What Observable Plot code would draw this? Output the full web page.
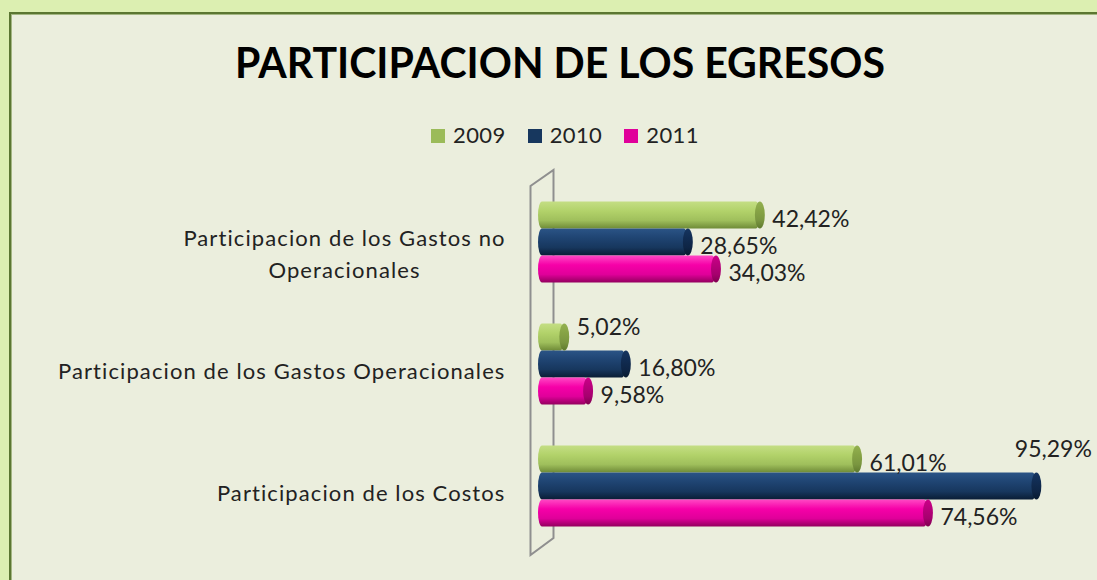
<!DOCTYPE html>
<html><head><meta charset="utf-8">
<script src="https://cdn.jsdelivr.net/npm/d3@7"></script>
<script src="https://cdn.jsdelivr.net/npm/@observablehq/plot@0.6"></script>
<style>
html,body{margin:0;padding:0;width:1097px;height:580px;overflow:hidden;background:#dcefb1;font-family:Lato,sans-serif;}
#frame{position:absolute;left:9px;top:12px;width:1200px;height:700px;border-left:2px solid #5b7631;border-top:2px solid #5b7631;background:#ebeedd;box-shadow:inset 1px 1px 0 #a3b682;}
#title{position:absolute;top:41px;left:560px;transform:translateX(-50%);font-size:42px;font-weight:700;line-height:1;white-space:nowrap;color:#000;}
#legend{position:absolute;top:124px;left:431px;display:flex;font-size:22px;line-height:1;color:#222;letter-spacing:0.4px;}
#legend .item{display:flex;align-items:center;margin-right:22px;}
#legend .sw{width:14px;height:14px;margin-right:8px;margin-top:2px;}
#chart{position:absolute;left:0;top:150px;}
</style></head>
<body>
<div id="frame"></div>
<div id="title">PARTICIPACION DE LOS EGRESOS</div>
<div id="legend"></div>
<div id="chart"></div>
<script>
const categories = ["Participacion de los Gastos no Operacionales", "Participacion de los Gastos Operacionales", "Participacion de los Costos"];
const years = ["2009", "2010", "2011"];
const v2009 = [42.42, 5.02, 61.01];
const v2010 = [28.65, 16.80, 95.29];
const v2011 = [34.03, 9.58, 74.56];
const legendColors = {"2009": "#9bbb59", "2010": "#17375e", "2011": "#e0009a"};

const series = [v2009, v2010, v2011];
const data = [];
categories.forEach((c, i) => years.forEach((y, j) => data.push({cat: c, year: y, value: series[j][i]})));

const fmt = d => d.value.toFixed(2).replace(".", ",") + "%";
const wrap = s => {
  if (s.length <= 42) return s;
  const words = s.split(" "); let a = "", k = 0;
  while (k < words.length && (a + " " + words[k]).trim().length <= 30) { a = (a + " " + words[k]).trim(); k++; }
  return a + "\n" + words.slice(k).join(" ");
};
const maxVal = d3.max(data, d => d.value);
const isTop = d => d.value === maxVal;
const isTiny = d => d.value < 6;

// legend
const lg = document.getElementById("legend");
years.forEach(y => {
  const it = document.createElement("div"); it.className = "item";
  it.innerHTML = `<div class="sw" style="background:${legendColors[y]}"></div><span>${y}</span>`;
  lg.appendChild(it);
});

const H = 430, MT = 49.5, MB = 53, ML = 538, MR = 36;
const plot = Plot.plot({
  width: 1097, height: H,
  marginLeft: ML, marginRight: MR, marginTop: MT, marginBottom: MB,
  style: {background: "transparent", fontFamily: "Lato, sans-serif", color: "#222", overflow: "visible"},
  x: {domain: [0, 100], axis: null},
  y: {domain: years, axis: null, padding: 0},
  fy: {domain: categories, axis: null, paddingInner: 0.333, paddingOuter: 0},
  color: {type: "identity"},
  marks: [
    Plot.barX(data, {x1: 0, x2: "value", y: "year", fy: "cat", fill: d => `url(#body${d.year})`, rx: 4, ry: 13.6, inset: 0}),
    Plot.barX(data, {x1: d => d.value - 0.95, x2: d => d.value + 0.95, y: "year", fy: "cat", fill: d => `url(#cap${d.year})`, rx: 5, ry: 13.6, inset: 0}),
    Plot.text(data.filter(d => !isTop(d) && !isTiny(d)), {x: "value", y: "year", fy: "cat", text: fmt, dx: 12, dy: 4, textAnchor: "start", fontSize: 23, fill: "#222"}),
    Plot.text(data.filter(isTiny), {x: "value", y: "year", fy: "cat", text: fmt, dx: 12, dy: -10, textAnchor: "start", fontSize: 23, fill: "#222"}),
    Plot.text(data.filter(isTop), {x: "value", y: "year", fy: "cat", text: fmt, dx: 55, dy: -37, textAnchor: "end", fontSize: 23, fill: "#222"}),
    Plot.text(categories.filter(c => !wrap(c).includes("\n")), {fy: d => d, text: d => d, frameAnchor: "left", dx: -33, dy: 8, textAnchor: "end", fontSize: 22, fill: "#222"}),
    Plot.text(categories.filter(c => wrap(c).includes("\n")), {fy: d => d, text: d => wrap(d), frameAnchor: "left", dx: -194, dy: 10, textAnchor: "middle", lineHeight: 1.45, fontSize: 22, fill: "#222"})
  ]
});

// widen category labels' letter spacing (Calibri-like proportions)
plot.querySelectorAll("text").forEach(t => {
  if (t.textContent.startsWith("Participacion")) t.setAttribute("letter-spacing", "1.1");
});

// gradients
const grads = {
  body2009: ["#c4de84", "#b2d26a", "#9fbf5c", "#6f8b37"],
  body2010: ["#2b5486", "#1f4472", "#17375e", "#0a1d35"],
  body2011: ["#ff48c4", "#f600a8", "#e0009a", "#93005e"],
  cap2009: ["#93b050", "#86a345", "#7a9640", "#5f7a2e"],
  cap2010: ["#153560", "#112c52", "#0e2545", "#081a30"],
  cap2011: ["#cc0088", "#b8007b", "#a6006e", "#80004f"]
};
const ns = "http://www.w3.org/2000/svg";
const defs = document.createElementNS(ns, "defs");
Object.entries(grads).forEach(([id, cs]) => {
  const g = document.createElementNS(ns, "linearGradient");
  g.setAttribute("id", id); g.setAttribute("x1", 0); g.setAttribute("y1", 0); g.setAttribute("x2", 0); g.setAttribute("y2", 1);
  [0, 0.35, 0.7, 1].forEach((o, i) => {
    const s = document.createElementNS(ns, "stop");
    s.setAttribute("offset", o); s.setAttribute("stop-color", cs[i]); g.appendChild(s);
  });
  defs.appendChild(g);
});
plot.insertBefore(defs, plot.firstChild);

// 3D back wall (drawn beneath the bars)
const bottom = H - MB;
const wall = document.createElementNS(ns, "path");
wall.setAttribute("d", `M${ML - 7.5},${bottom + 28} L${ML - 7.5},${MT - 13.5} L${ML + 15.5},${MT - 29.5} L${ML + 15.5},${bottom + 11} Z`);
wall.setAttribute("fill", "none"); wall.setAttribute("stroke", "#8f8f8f"); wall.setAttribute("stroke-width", 2);
const firstG = plot.querySelector("g");
plot.insertBefore(wall, firstG);

document.getElementById("chart").appendChild(plot);

// fit title width
function fitTitle() {
  const t = document.getElementById("title");
  t.style.transform = "translateX(-50%)";
  const w = t.getBoundingClientRect().width;
  t.style.transform = `translateX(-50%) scaleX(${650 / w})`;
}
fitTitle();
if (document.fonts) document.fonts.ready.then(fitTitle);
</script>
</body></html>
